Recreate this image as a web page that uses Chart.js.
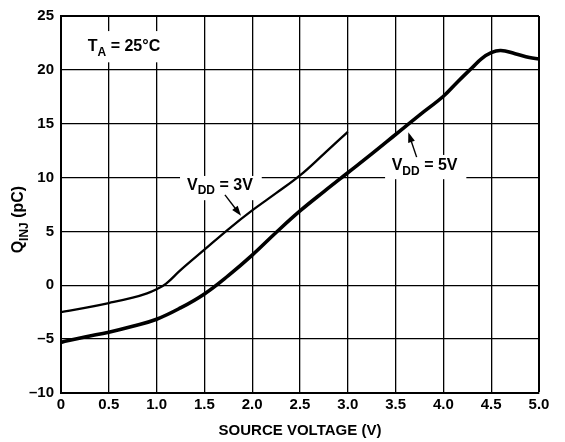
<!DOCTYPE html>
<html>
<head>
<meta charset="utf-8">
<script src="https://cdn.jsdelivr.net/npm/chart.js@4/dist/chart.umd.min.js"></script>
<style>
  html, body { margin: 0; padding: 0; background: #fff; }
  #wrap { width: 565px; height: 442px; position: relative; }
</style>
</head>
<body>
<div id="wrap"><canvas id="qinjChart"></canvas></div>
<script>
// values
const volts3 = [0, 0.25, 0.5, 0.75, 0.9, 1.0, 1.1, 1.25, 1.5, 1.75, 2.0, 2.25, 2.5, 2.75, 3.0];
const qinj3 = [-2.5, -2.1, -1.65, -1.15, -0.75, -0.37, 0.15, 1.4, 3.3, 5.2, 6.95, 8.55, 10.2, 12.2, 14.25];

const volts5 = [0, 0.25, 0.5, 0.75, 1.0, 1.25, 1.5, 1.75, 2.0, 2.25, 2.5, 2.75, 3.0, 3.25, 3.5, 3.75, 4.0, 4.15, 4.3, 4.4, 4.5, 4.6, 4.75, 4.9, 5.0];
const qinj5 = [-5.3, -4.8, -4.35, -3.8, -3.15, -2.1, -0.8, 0.9, 2.8, 4.9, 6.9, 8.7, 10.45, 12.2, 14.0, 15.8, 17.55, 18.9, 20.2, 21.05, 21.6, 21.8, 21.5, 21.15, 21.0];

const xTickLabels = ['0', '0.5', '1.0', '1.5', '2.0', '2.5', '3.0', '3.5', '4.0', '4.5', '5.0'];
const yTickLabels = ['\u201310', '\u20135', '0', '5', '10', '15', '20', '25'];

const FONT = "'Liberation Sans', Arial, Helvetica, sans-serif";

function toPoints(xs, ys) {
    return xs.map((v, i) => ({ x: v, y: ys[i] }));
}

// text with a subscript part: parts = [[text, size, dy], ...]
function drawParts(ctx, x, y, parts, align) {
    let total = 0;
    parts.forEach(p => { ctx.font = `bold ${p[1]}px ${FONT}`; total += ctx.measureText(p[0]).width; });
    let cx = align === 'center' ? x - total / 2 : x;
    ctx.textAlign = 'left';
    ctx.textBaseline = 'alphabetic';
    parts.forEach(p => {
        ctx.font = `bold ${p[1]}px ${FONT}`;
        ctx.fillText(p[0], cx, y + p[2]);
        cx += ctx.measureText(p[0]).width;
    });
}

function drawArrow(ctx, x1, y1, x2, y2) {
    const ang = Math.atan2(y2 - y1, x2 - x1);
    const len = 10, half = 3.5;
    ctx.beginPath();
    ctx.moveTo(x1, y1);
    ctx.lineTo(x2 - Math.cos(ang) * len * 0.8, y2 - Math.sin(ang) * len * 0.8);
    ctx.lineWidth = 1.4;
    ctx.stroke();
    ctx.beginPath();
    ctx.moveTo(x2, y2);
    ctx.lineTo(x2 - Math.cos(ang) * len - Math.sin(ang) * half, y2 - Math.sin(ang) * len + Math.cos(ang) * half);
    ctx.lineTo(x2 - Math.cos(ang) * len + Math.sin(ang) * half, y2 - Math.sin(ang) * len - Math.cos(ang) * half);
    ctx.closePath();
    ctx.fill();
}

const annotations = {
    id: 'annotations',
    beforeDatasetsDraw(chart) {
        const { ctx, scales: { x, y } } = chart;
        // white boxes behind the labels, cutting the grid
        const boxes = [
            [0.2, 1.1, 20.7, 23.6],
            [1.245, 2.1, 7.9, 10.15],
            [3.39, 4.24, 9.85, 12.1],
            [3.47, 3.78, 11.0, 13.9]
        ];
        ctx.save();
        ctx.fillStyle = '#fff';
        boxes.forEach(b => {
            const l = x.getPixelForValue(b[0]), r = x.getPixelForValue(b[1]);
            const t = y.getPixelForValue(b[3]), btm = y.getPixelForValue(b[2]);
            ctx.fillRect(l, t, r - l, btm - t);
        });
        ctx.restore();
    },
    afterDatasetsDraw(chart) {
        const { ctx, chartArea, scales: { x, y } } = chart;
        ctx.save();
        ctx.fillStyle = '#000';
        ctx.strokeStyle = '#000';

        drawParts(ctx, x.getPixelForValue(0.28), y.getPixelForValue(21.75),
            [['T', 16, 0], ['A', 12, 4.5], [' = 25\u00B0C', 16, 0]]);
        drawParts(ctx, x.getPixelForValue(1.318), y.getPixelForValue(8.86),
            [['V', 16, 0], ['DD', 12, 4.5], [' = 3V', 16, 0]]);
        drawParts(ctx, x.getPixelForValue(3.459), y.getPixelForValue(10.69),
            [['V', 16, 0], ['DD', 12, 4.5], [' = 5V', 16, 0]]);

        drawArrow(ctx, x.getPixelForValue(1.715), y.getPixelForValue(8.4),
            x.getPixelForValue(1.883), y.getPixelForValue(6.45));
        drawArrow(ctx, x.getPixelForValue(3.72), y.getPixelForValue(11.9),
            x.getPixelForValue(3.633), y.getPixelForValue(14.2));

        // y axis title with subscript
        ctx.translate(chartArea.left - 38, y.getPixelForValue(6.1));
        ctx.rotate(-Math.PI / 2);
        drawParts(ctx, 0, 0, [['Q', 16, 0], ['INJ', 12, 4.5], [' (pC)', 16, 0]], 'center');
        ctx.restore();
    }
};

const canvas = document.getElementById('qinjChart');
new Chart(canvas.getContext('2d'), {
    type: 'line',
    data: {
        datasets: [
            { label: 'VDD = 3V', data: toPoints(volts3, qinj3), borderColor: '#000', borderWidth: 2.3, pointRadius: 0, tension: 0.4, fill: false },
            { label: 'VDD = 5V', data: toPoints(volts5, qinj5), borderColor: '#000', borderWidth: 3.6, pointRadius: 0, tension: 0.4, fill: false }
        ]
    },
    options: {
        responsive: true,
        maintainAspectRatio: false,
        animation: false,
        layout: { padding: { left: 0, right: 26, top: 10, bottom: 0 } },
        plugins: { legend: { display: false }, tooltip: { enabled: false } },
        scales: {
            x: {
                type: 'linear', min: 0, max: 5,
                ticks: {
                    stepSize: 0.5, color: '#000', padding: 3,
                    font: { family: FONT, size: 15, weight: 'bold' },
                    callback: (v, i) => xTickLabels[i]
                },
                grid: { color: '#000', lineWidth: c => (c.tick && c.tick.value === 5 ? 2 : 1.3), drawTicks: false },
                border: { display: true, color: '#000', width: 2 },
                title: {
                    display: true, text: 'SOURCE VOLTAGE (V)', color: '#000',
                    font: { family: FONT, size: 15, weight: 'bold' }, padding: { top: 2, bottom: 2 }
                },
                afterFit: s => { s.height = 49; }
            },
            y: {
                min: -10, max: 25,
                ticks: {
                    stepSize: 5, color: '#000', padding: 7,
                    font: { family: FONT, size: 15, weight: 'bold' },
                    callback: (v, i) => yTickLabels[i]
                },
                grid: { color: '#000', lineWidth: c => (c.tick && c.tick.value === 25 ? 2 : 1.3), drawTicks: false },
                border: { display: true, color: '#000', width: 2 },
                afterFit: s => { s.width = 61; }
            }
        }
    },
    plugins: [annotations]
});
</script>
</body>
</html>
